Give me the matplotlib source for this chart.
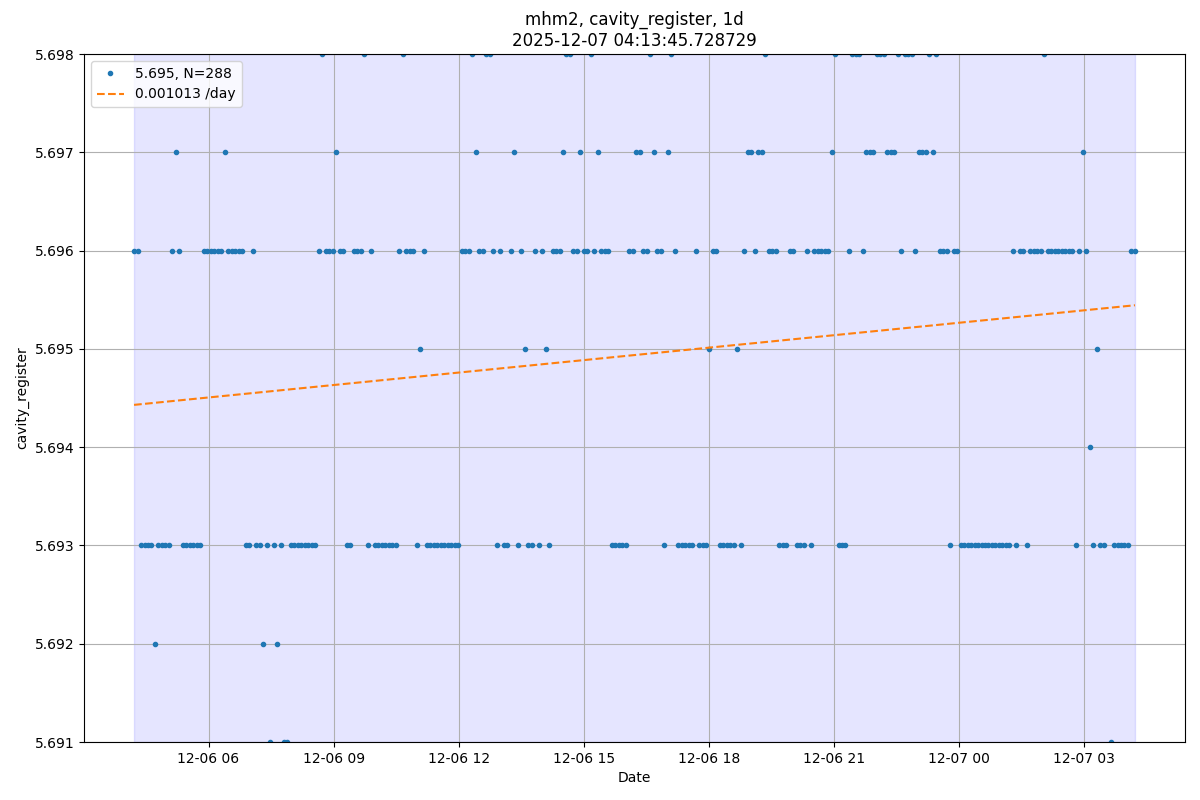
import numpy as np
import pandas as pd
import matplotlib
matplotlib.use("Agg")
import matplotlib.pyplot as plt
import matplotlib.dates as mdates

# cavity_register readings, one every ~5 min over one day
t_start = "2025-12-06 04:12:45"
t_end = "2025-12-07 04:13:45"
values = [
    5.696, 5.696, 5.693, 5.693, 5.693, 5.693, 5.692, 5.693, 5.693, 5.693, 5.693, 5.696,
    5.697, 5.696, 5.693, 5.693, 5.693, 5.693, 5.693, 5.693, 5.696, 5.696, 5.696, 5.696,
    5.696, 5.696, 5.697, 5.696, 5.696, 5.696, 5.696, 5.696, 5.693, 5.693, 5.696, 5.693,
    5.693, 5.692, 5.693, 5.691, 5.693, 5.692, 5.693, 5.691, 5.691, 5.693, 5.693, 5.693,
    5.693, 5.693, 5.693, 5.693, 5.693, 5.696, 5.698, 5.696, 5.696, 5.696, 5.697, 5.696,
    5.696, 5.693, 5.693, 5.696, 5.696, 5.696, 5.698, 5.693, 5.696, 5.693, 5.693, 5.693,
    5.693, 5.693, 5.693, 5.693, 5.696, 5.698, 5.696, 5.696, 5.696, 5.693, 5.695, 5.696,
    5.693, 5.693, 5.693, 5.693, 5.693, 5.693, 5.693, 5.693, 5.693, 5.693, 5.696, 5.696,
    5.696, 5.698, 5.697, 5.696, 5.696, 5.698, 5.698, 5.696, 5.693, 5.696, 5.693, 5.693,
    5.696, 5.697, 5.693, 5.696, 5.695, 5.693, 5.693, 5.696, 5.693, 5.696, 5.695, 5.693,
    5.696, 5.696, 5.696, 5.697, 5.698, 5.698, 5.696, 5.696, 5.697, 5.696, 5.696, 5.698,
    5.696, 5.697, 5.696, 5.696, 5.696, 5.693, 5.693, 5.693, 5.693, 5.693, 5.696, 5.696,
    5.697, 5.697, 5.696, 5.696, 5.698, 5.697, 5.696, 5.696, 5.693, 5.697, 5.698, 5.696,
    5.693, 5.693, 5.693, 5.693, 5.693, 5.696, 5.693, 5.693, 5.693, 5.695, 5.696, 5.696,
    5.693, 5.693, 5.693, 5.693, 5.693, 5.695, 5.693, 5.696, 5.697, 5.697, 5.696, 5.697,
    5.697, 5.698, 5.696, 5.696, 5.696, 5.693, 5.693, 5.693, 5.696, 5.696, 5.693, 5.693,
    5.693, 5.696, 5.693, 5.696, 5.696, 5.696, 5.696, 5.696, 5.697, 5.698, 5.693, 5.693,
    5.693, 5.696, 5.698, 5.698, 5.698, 5.696, 5.697, 5.697, 5.697, 5.698, 5.698, 5.698,
    5.697, 5.697, 5.697, 5.698, 5.696, 5.698, 5.698, 5.698, 5.696, 5.697, 5.697, 5.697,
    5.698, 5.697, 5.698, 5.696, 5.696, 5.696, 5.693, 5.696, 5.696, 5.693, 5.693, 5.693,
    5.693, 5.693, 5.693, 5.693, 5.693, 5.693, 5.693, 5.693, 5.693, 5.693, 5.693, 5.693,
    5.696, 5.693, 5.696, 5.696, 5.693, 5.696, 5.696, 5.696, 5.696, 5.698, 5.696, 5.696,
    5.696, 5.696, 5.696, 5.696, 5.696, 5.696, 5.693, 5.696, 5.697, 5.696, 5.694, 5.693,
    5.695, 5.693, 5.693, 5.699, 5.691, 5.693, 5.693, 5.693, 5.693, 5.693, 5.696, 5.696,
]

# linear trend
trend_start = 5.69443
trend_per_day = 0.001013
mean_label = "5.695, N=288"

times = pd.date_range(t_start, t_end, periods=len(values))
days = (times - times[0]) / pd.Timedelta(days=1)
trend = trend_start + trend_per_day * np.asarray(days)

fig, ax = plt.subplots(figsize=(12, 8), dpi=100)
ax.axvspan(times[0], times[-1], color="blue", alpha=0.1)
ax.plot(times, values, ".", label=mean_label)
ax.plot(times, trend, "--", label=f"{trend_per_day:.6f} /day")

ax.set_ylim(5.691, 5.698)
ax.yaxis.set_major_formatter(plt.FormatStrFormatter("%.3f"))
ax.xaxis.set_major_locator(mdates.HourLocator(byhour=range(0, 24, 3)))
ax.xaxis.set_major_formatter(mdates.DateFormatter("%m-%d %H"))
ax.set_xlabel("Date")
ax.set_ylabel("cavity_register")
ax.set_title("mhm2, cavity_register, 1d\n2025-12-07 04:13:45.728729")
ax.grid(True)
ax.legend(loc="upper left")

plt.subplots_adjust(left=0.07, right=0.9875, top=0.9325, bottom=0.0725)
plt.savefig("out.png")
